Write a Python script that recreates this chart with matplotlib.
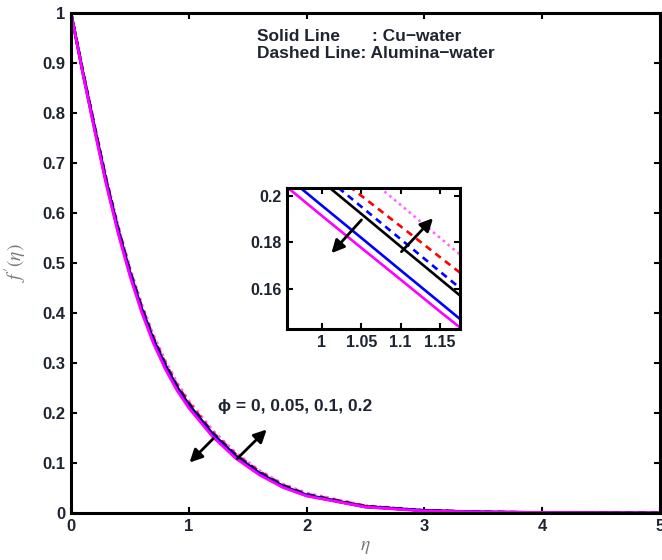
import matplotlib
matplotlib.use("Agg")
import matplotlib.pyplot as plt

plt.rcParams['font.family'] = ['Liberation Sans', 'DejaVu Sans']
plt.rcParams['mathtext.fontset'] = 'stix'

# ---- main plot data ----
eta = [0, 0.1, 0.2, 0.3, 0.4, 0.5, 0.6, 0.7, 0.8, 0.9, 1.0, 1.2, 1.4, 1.6, 1.8, 2.0, 2.5, 3.0, 3.5, 4.0, 5.0]
cu_phi0    = [1.0, 0.882, 0.771, 0.663, 0.567, 0.482, 0.409, 0.347, 0.296, 0.252, 0.217, 0.159, 0.114, 0.080, 0.054, 0.036, 0.013, 0.005, 0.002, 0.001, 0.0]
cu_blue    = [1.0, 0.880, 0.768, 0.659, 0.563, 0.478, 0.405, 0.343, 0.292, 0.248, 0.213, 0.156, 0.111, 0.078, 0.052, 0.035, 0.012, 0.005, 0.002, 0.001, 0.0]
cu_magenta = [1.0, 0.879, 0.765, 0.656, 0.559, 0.474, 0.401, 0.339, 0.288, 0.245, 0.210, 0.153, 0.109, 0.076, 0.051, 0.034, 0.012, 0.004, 0.002, 0.001, 0.0]
al_blue    = [1.0, 0.883, 0.772, 0.664, 0.568, 0.483, 0.410, 0.348, 0.297, 0.253, 0.218, 0.160, 0.115, 0.081, 0.055, 0.037, 0.013, 0.005, 0.002, 0.001, 0.0]
al_red     = [1.0, 0.884, 0.774, 0.666, 0.571, 0.486, 0.413, 0.351, 0.300, 0.256, 0.221, 0.162, 0.117, 0.083, 0.056, 0.038, 0.014, 0.005, 0.002, 0.001, 0.0]
al_magenta = [1.0, 0.886, 0.777, 0.670, 0.575, 0.491, 0.418, 0.356, 0.305, 0.261, 0.225, 0.166, 0.120, 0.085, 0.058, 0.040, 0.015, 0.006, 0.002, 0.001, 0.0]

# ---- inset data ----
eta_in = [0.95, 1.0, 1.05, 1.1, 1.15, 1.18]
in_cu_magenta = [0.2055, 0.1915, 0.1777, 0.1640, 0.1502, 0.1421]
in_cu_blue    = [0.2099, 0.1959, 0.1820, 0.1680, 0.1541, 0.1457]
in_cu_phi0    = [0.2203, 0.2063, 0.1923, 0.1782, 0.1642, 0.1558]
in_al_blue    = [0.2234, 0.2094, 0.1954, 0.1814, 0.1674, 0.1590]
in_al_red     = [0.2266, 0.2134, 0.2001, 0.1869, 0.1736, 0.1657]
in_al_magenta = [0.2385, 0.2244, 0.2102, 0.1961, 0.1819, 0.1734]

x_ticks = [0, 1, 2, 3, 4, 5]
y_ticks = [0, 0.1, 0.2, 0.3, 0.4, 0.5, 0.6, 0.7, 0.8, 0.9, 1]
y_tick_labels = ['0', '0.1', '0.2', '0.3', '0.4', '0.5', '0.6', '0.7', '0.8', '0.9', '1']
in_x_ticks = [1, 1.05, 1.1, 1.15]
in_x_labels = ['1', '1.05', '1.1', '1.15']
in_y_ticks = [0.16, 0.18, 0.2]
in_y_labels = ['0.16', '0.18', '0.2']

TXT = '#1e2530'
DOT = (0, (1, 1.4))
DASH = (0, (2.6, 2.0))


def draw_curves(ax, x, c0, cb, cm, ab, ar, am, lw):
    ax.plot(x, am, color='#ff66ff', lw=lw, linestyle=DOT)
    ax.plot(x, ar, color='#ff0000', lw=lw, linestyle=DASH)
    ax.plot(x, ab, color='#0000ff', lw=lw, linestyle=DASH)
    ax.plot(x, c0, color='black', lw=lw)
    ax.plot(x, cb, color='#0000ff', lw=lw)
    ax.plot(x, cm, color='#ff00ff', lw=lw)


def style_axes(ax, fs):
    for s in ax.spines.values():
        s.set_linewidth(2.2)
        s.set_color('black')
    ax.tick_params(direction='in', length=4, width=1.5, top=True, right=True,
                   labelsize=fs, labelcolor=TXT, pad=4)
    for lab in ax.get_xticklabels() + ax.get_yticklabels():
        lab.set_fontweight('bold')


fig = plt.figure(figsize=(6.62, 5.6), dpi=100)
ax = fig.add_axes([0.1073, 0.0839, 0.8897, 0.8929])
draw_curves(ax, eta, cu_phi0, cu_blue, cu_magenta, al_blue, al_red, al_magenta, 2.0)
ax.set_xlim(0, 5)
ax.set_ylim(0, 1)
ax.set_xticks(x_ticks)
ax.set_xticklabels([str(v) for v in x_ticks])
ax.set_yticks(y_ticks)
ax.set_yticklabels(y_tick_labels)
style_axes(ax, 12)
ax.set_xlabel(r'$\eta$', color='#777777', fontsize=14, labelpad=4)
ax.set_ylabel(r"$f'(\eta)$", color='#777777', fontsize=14, labelpad=10)

ax.text(1.576, 0.9526, 'Solid Line', fontsize=12.5, fontweight='bold', color=TXT, va='center')
ax.text(2.553, 0.9526, ': Cu−water', fontsize=12.5, fontweight='bold', color=TXT, va='center')
ax.text(1.576, 0.919, 'Dashed Line: Alumina−water', fontsize=12.5, fontweight='bold', color=TXT, va='center')

ax.text(1.248, 0.2126, 'ϕ = 0, 0.05, 0.1, 0.2', fontsize=12.5, fontweight='bold', color=TXT, va='center')

arrow_kw = dict(arrowstyle='-|>', lw=2.0, color='black', mutation_scale=19, shrinkA=0, shrinkB=0)
ax.annotate('', xy=(1.006, 0.101), xytext=(1.208, 0.149), arrowprops=arrow_kw)
ax.annotate('', xy=(1.661, 0.167), xytext=(1.412, 0.109), arrowprops=arrow_kw)

# ---- inset ----
axi = fig.add_axes([0.4335, 0.4125, 0.2613, 0.2518])
draw_curves(axi, eta_in, in_cu_phi0, in_cu_blue, in_cu_magenta, in_al_blue, in_al_red, in_al_magenta, 1.9)
axi.set_xlim(0.956, 1.175)
axi.set_ylim(0.1428, 0.2034)
axi.set_xticks(in_x_ticks)
axi.set_xticklabels(in_x_labels)
axi.set_yticks(in_y_ticks)
axi.set_yticklabels(in_y_labels)
style_axes(axi, 11.5)
axi.annotate('', xy=(1.0123, 0.1754), xytext=(1.0503, 0.1897), arrowprops=arrow_kw)
axi.annotate('', xy=(1.1409, 0.1904), xytext=(1.1009, 0.1760), arrowprops=arrow_kw)

fig.savefig('out.png', dpi=100)
